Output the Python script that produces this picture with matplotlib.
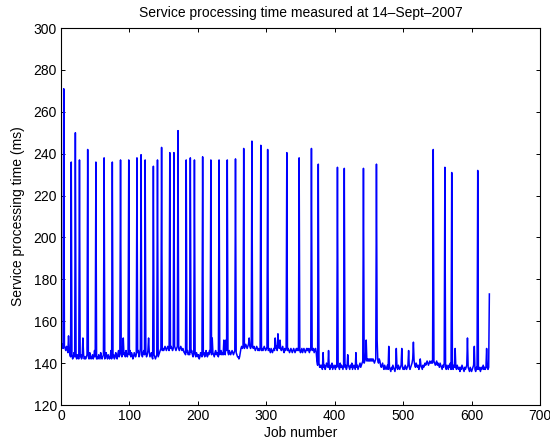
import numpy as np
import matplotlib
matplotlib.use("Agg")
import matplotlib.pyplot as plt

plt.rcParams['font.family'] = ['Liberation Sans', 'DejaVu Sans']

# Service processing time (ms) per job, in chunks
ms_001_100 = [148, 149, 147, 271, 148, 147, 146, 148, 147, 145,
              153, 146, 144, 143, 236, 144, 142, 143, 145, 143,
              250, 143, 142, 144, 143, 142, 237, 143, 144, 142,
              143, 152, 144, 142, 143, 142, 143, 144, 242, 143,
              142, 145, 143, 142, 143, 144, 142, 143, 146, 143,
              236, 142, 143, 142, 144, 143, 142, 145, 143, 142,
              143, 144, 238, 142, 143, 145, 143, 142, 144, 143,
              142, 143, 146, 142, 236, 143, 144, 142, 143, 145,
              143, 142, 144, 146, 143, 144, 237, 145, 143, 147,
              152, 144, 145, 143, 146, 144, 143, 145, 237, 144]
ms_101_200 = [146, 143, 145, 144, 142, 143, 145, 144, 143, 144,
              238, 145, 146, 143, 144, 147, 239.5, 144, 143, 145,
              146, 144, 237, 145, 143, 144, 146, 152, 145, 143,
              144, 145, 143, 142, 234, 144, 143, 142, 143, 144,
              237, 143, 144, 145, 146, 147, 243, 146, 147, 146,
              147, 148, 147, 146, 147, 148, 147, 146, 240.5, 147,
              148, 147, 146, 147, 240.5, 148, 147, 146, 147, 148,
              251, 147, 146, 147, 148, 147, 146, 147, 146, 145,
              145, 144, 237, 145, 146, 144, 145, 144, 238, 145,
              146, 144, 143, 145, 237, 144, 143, 145, 144, 143]
ms_201_300 = [144, 142, 143, 145, 144, 143, 238.5, 144, 145, 143,
              144, 146, 144, 143, 145, 144, 146, 145, 237, 144,
              152, 145, 144, 143, 145, 146, 144, 145, 144, 143,
              237, 144, 145, 146, 144, 145, 144, 151, 145, 144,
              151, 146, 237, 145, 144, 146, 145, 144, 145, 146,
              145, 144, 145, 146, 237.5, 145, 144, 143, 143, 142,
              143, 145, 147, 148, 147, 148, 242.5, 147, 148, 149,
              148, 147, 148, 149, 152, 148, 147, 148, 246, 148,
              147, 148, 147, 146, 147, 148, 147, 146, 147, 146,
              147, 244, 146, 147, 146, 147, 148, 147, 146, 147]
ms_301_400 = [147, 242, 146, 147, 146, 145, 147, 146, 145, 146,
              147, 146, 152, 147, 148, 146, 154, 148, 147, 151,
              147, 146, 147, 148, 146, 145, 147, 146, 147, 240.5,
              146, 147, 146, 145, 146, 147, 146, 145, 146, 147,
              146, 145, 146, 147, 146, 147, 146, 238, 146, 145,
              146, 147, 145, 146, 147, 146, 145, 146, 147, 146,
              147, 146, 145, 147, 146, 242.5, 147, 146, 147, 145,
              146, 147, 145, 141, 139, 235, 140, 138, 139, 138,
              139, 137, 145, 138, 139, 137, 138, 140, 139, 138,
              146, 138, 137, 139, 138, 140, 137, 138, 139, 138]
ms_401_500 = [137, 139, 138, 233.5, 139, 138, 137, 140, 138, 139,
              138, 137, 139, 233, 138, 139, 137, 138, 144, 139,
              138, 137, 139, 138, 140, 137, 138, 139, 138, 137,
              145, 138, 139, 137, 138, 139, 140, 138, 139, 140,
              141, 233, 140, 141, 142, 151, 141, 142, 141, 142,
              141, 142, 141, 142, 141, 142, 141, 140, 141, 142,
              235, 151, 141, 140, 142, 141, 139, 138, 139, 140,
              138, 137, 139, 138, 137, 138, 139, 137, 148, 138,
              137, 136, 138, 137, 139, 138, 137, 136, 138, 147,
              138, 137, 139, 138, 137, 138, 139, 147, 138, 137]
ms_501_600 = [138, 137, 139, 138, 137, 138, 139, 146, 138, 137,
              138, 139, 140, 142, 150, 141, 139, 138, 140, 139,
              138, 139, 137, 138, 142, 139, 138, 137, 139, 138,
              139, 140, 139, 140, 141, 140, 139, 140, 141, 140,
              140, 141, 140, 242, 141, 140, 139, 140, 141, 139,
              140, 139, 138, 140, 139, 138, 137, 139, 138, 140,
              233.5, 138, 137, 139, 138, 137, 139, 138, 140, 137,
              231, 138, 137, 139, 138, 147, 138, 137, 139, 138,
              137, 138, 136, 138, 137, 139, 138, 137, 136, 138,
              137, 138, 139, 152, 138, 137, 136, 138, 137, 136]
ms_601_626 = [137, 138, 139, 148, 137, 136, 138, 137, 232, 137,
              138, 137, 136, 138, 137, 138, 139, 137, 138, 137,
              138, 147, 138, 137, 138, 173]

x_ticks = [0, 100, 200, 300, 400, 500, 600, 700]
y_ticks = [120, 140, 160, 180, 200, 220, 240, 260, 280, 300]

values = np.concatenate([ms_001_100, ms_101_200, ms_201_300, ms_301_400,
                         ms_401_500, ms_501_600, ms_601_626])
jobs = np.arange(1, len(values) + 1)

fig = plt.figure(figsize=(5.5, 4.48), dpi=100)
ax = fig.add_axes([61 / 550, 1 - 405 / 448, (540 - 61) / 550, (405 - 28) / 448])
ax.plot(jobs, values, color='#0000ff', linewidth=1.1)

ax.set_xlim(0, 700)
ax.set_ylim(120, 300)
ax.set_xticks(x_ticks)
ax.set_yticks(y_ticks)
ax.tick_params(direction='in', length=3, width=0.7, labelsize=10,
               top=True, right=True, pad=3)
for s in ax.spines.values():
    s.set_linewidth(0.8)

ax.set_title('Service processing time measured at 14\u2013Sept\u20132007', fontsize=10, pad=8)
ax.set_xlabel('Job number', fontsize=10, labelpad=2)
ax.set_ylabel('Service processing time (ms)', fontsize=10, labelpad=6)

fig.savefig('out.png', dpi=100)
